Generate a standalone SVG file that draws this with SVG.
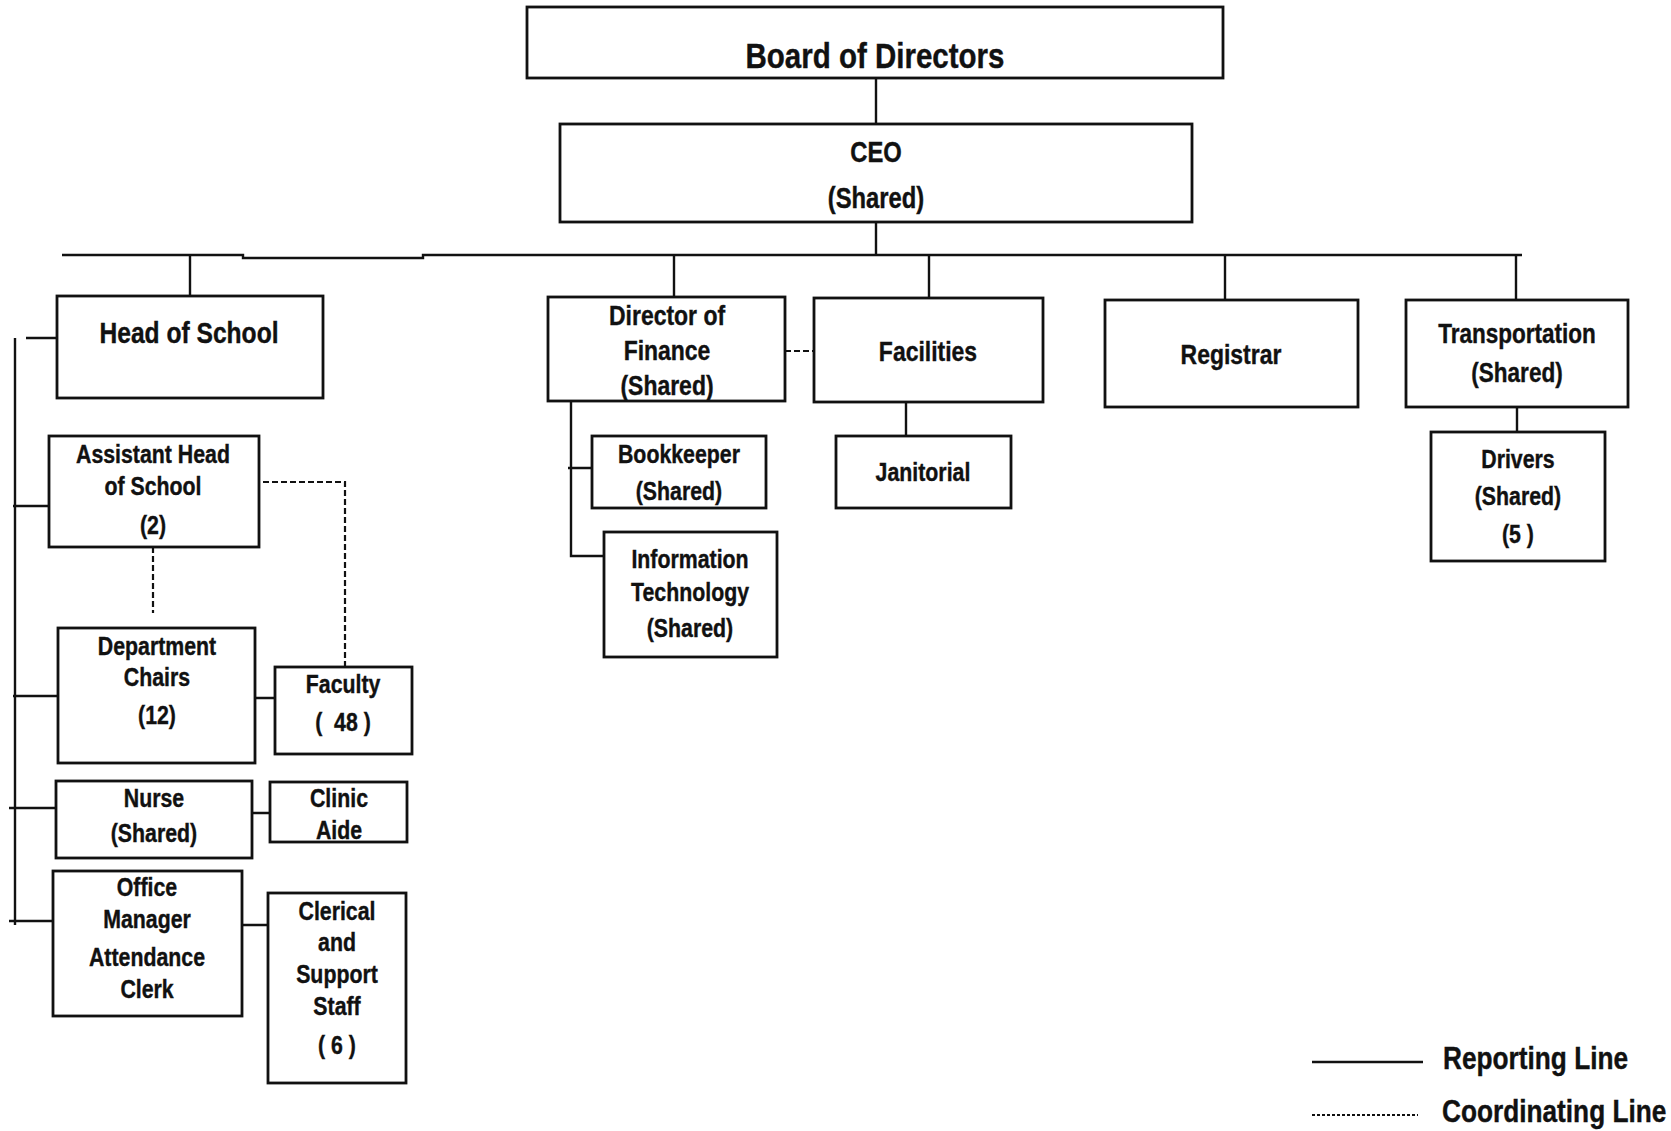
<svg xmlns="http://www.w3.org/2000/svg" width="1671" height="1131" viewBox="0 0 1671 1131">
<style>
.box{fill:#fff;stroke:#111;stroke-width:2.8}
.t{font-family:"Liberation Sans","Arial",sans-serif;font-weight:bold;fill:#111;stroke:#111;stroke-width:0.4;text-anchor:middle;transform-box:fill-box;transform-origin:center;transform:scaleX(0.82)}
.lg{text-anchor:start;transform-origin:left center}
.s26{font-size:26px}.s28{font-size:28px}.s30{font-size:30px}
.ln{fill:none;stroke:#111;stroke-width:2.4}
.dash{fill:none;stroke:#111;stroke-width:2.2;stroke-dasharray:6 3}
.dot{fill:none;stroke:#111;stroke-width:2;stroke-dasharray:3 2}
</style>
<rect width="1671" height="1131" fill="#fff"/>
<g id="connectors">
<path class="ln" d="M876 78V124M876 222V256M62 255H243V258H423V255H1522"/>
<path class="ln" d="M190 255V296M674 255V297M929 255V298M1225 255V300M1516 255V300"/>
<path class="ln" d="M15 338V925M26 338H57M13 506H49M13 696H58M9 808H56M9 921H53"/>
<path class="ln" d="M250 698H275M248 813H270M242 925H268"/>
<path class="ln" d="M571 401V556H604M568 468H592M906 402V436M1517 403V432"/>
<path class="dash" d="M785 351H814M254 482H345V667M153 547V613"/>
</g>
<g id="board"><rect class="box" x="527" y="7" width="696" height="71"/><text class="t" x="875" y="68" font-size="36">Board of Directors</text></g>
<g id="ceo"><rect class="box" x="560" y="124" width="632" height="98"/><text class="t" font-size="29" x="876" y="162">CEO</text><text class="t" font-size="29" x="876" y="208">(Shared)</text></g>
<g id="head"><rect class="box" x="57" y="296" width="266" height="102"/><text class="t s30" x="189" y="343">Head of School</text></g>
<g id="asst"><rect class="box" x="49" y="436" width="210" height="111"/><text class="t s26" x="153" y="463">Assistant Head</text><text class="t s26" x="153" y="495">of School</text><text class="t s26" x="153" y="534">(2)</text></g>
<g id="dept"><rect class="box" x="58" y="628" width="197" height="135"/><text class="t s26" x="157" y="655">Department</text><text class="t s26" x="157" y="686">Chairs</text><text class="t s26" x="157" y="724">(12)</text></g>
<g id="faculty"><rect class="box" x="275" y="667" width="137" height="87"/><text class="t s26" x="343" y="693">Faculty</text><text class="t s26" x="343" y="731" xml:space="preserve">(  48 )</text></g>
<g id="nurse"><rect class="box" x="56" y="781" width="196" height="77"/><text class="t s26" x="154" y="807">Nurse</text><text class="t s26" x="154" y="842">(Shared)</text></g>
<g id="clinic"><rect class="box" x="270" y="782" width="137" height="60"/><text class="t s26" x="339" y="807">Clinic</text><text class="t s26" x="339" y="839">Aide</text></g>
<g id="office"><rect class="box" x="53" y="871" width="189" height="145"/><text class="t s26" x="147" y="896">Office</text><text class="t s26" x="147" y="928">Manager</text><text class="t s26" x="147" y="966">Attendance</text><text class="t s26" x="147" y="998">Clerk</text></g>
<g id="clerical"><rect class="box" x="268" y="893" width="138" height="190"/><text class="t s26" x="337" y="920">Clerical</text><text class="t s26" x="337" y="951">and</text><text class="t s26" x="337" y="983">Support</text><text class="t s26" x="337" y="1015">Staff</text><text class="t s26" x="337" y="1054">( 6 )</text></g>
<g id="director"><rect class="box" x="548" y="297" width="237" height="104"/><text class="t s28" x="667" y="325">Director of</text><text class="t s28" x="667" y="360">Finance</text><text class="t s28" x="667" y="395">(Shared)</text></g>
<g id="facilities"><rect class="box" x="814" y="298" width="229" height="104"/><text class="t s28" x="928" y="361">Facilities</text></g>
<g id="janitorial"><rect class="box" x="836" y="436" width="175" height="72"/><text class="t s26" x="923" y="481">Janitorial</text></g>
<g id="bookkeeper"><rect class="box" x="592" y="436" width="174" height="72"/><text class="t s26" x="679" y="463">Bookkeeper</text><text class="t s26" x="679" y="500">(Shared)</text></g>
<g id="it"><rect class="box" x="604" y="532" width="173" height="125"/><text class="t s26" x="690" y="568">Information</text><text class="t s26" x="690" y="601">Technology</text><text class="t s26" x="690" y="637">(Shared)</text></g>
<g id="registrar"><rect class="box" x="1105" y="300" width="253" height="107"/><text class="t s28" x="1231" y="364">Registrar</text></g>
<g id="transportation"><rect class="box" x="1406" y="300" width="222" height="107"/><text class="t" font-size="27.5" x="1517" y="343">Transportation</text><text class="t" font-size="27.5" x="1517" y="382">(Shared)</text></g>
<g id="drivers"><rect class="box" x="1431" y="432" width="174" height="129"/><text class="t s26" x="1518" y="468">Drivers</text><text class="t s26" x="1518" y="505">(Shared)</text><text class="t s26" x="1518" y="543" xml:space="preserve">(5 )</text></g>
<g id="legend">
<path class="ln" d="M1312 1062H1423"/>
<path class="dot" d="M1312 1115H1418"/>
<text class="t lg" font-size="32" x="1443" y="1069">Reporting Line</text>
<text class="t lg" font-size="32" x="1442" y="1122">Coordinating Line</text>
</g>
</svg>
